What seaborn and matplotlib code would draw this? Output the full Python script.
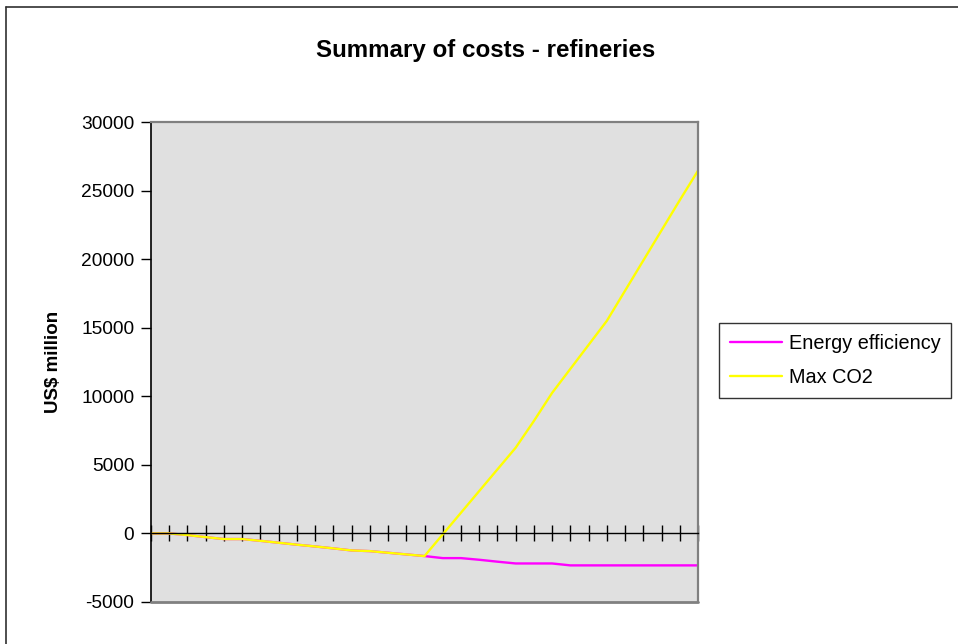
import matplotlib
matplotlib.use("Agg")
import matplotlib.pyplot as plt
from matplotlib.lines import Line2D
import numpy as np
import pandas as pd
import seaborn as sns

# Categories along the (unlabelled) x axis
periods = list(range(31))

# Cumulative cost per scenario, US$ million
energy_efficiency = [0, 0, -120, -270, -410, -410, -540, -680, -820, -950,
                     -1090, -1240, -1290, -1410, -1530, -1650, -1800, -1800,
                     -1920, -2060, -2190, -2190, -2190, -2330, -2330, -2330,
                     -2330, -2330, -2330, -2330, -2330]
max_co2 = [0, 0, -120, -270, -410, -410, -540, -680, -820, -950,
           -1090, -1240, -1290, -1410, -1530, -1650, -70, 1510,
           3090, 4670, 6250, 8200, 10250, 12000, 13750, 15500,
           17700, 19900, 22100, 24300, 26450]

series_names = ["Energy efficiency", "Max CO2"]
series_colors = ["#FF00FF", "#FFFF00"]
y_ticks = [-5000, 0, 5000, 10000, 15000, 20000, 25000, 30000]
title_text = "Summary of costs - refineries"
y_label = "US$ million"

sns.set_theme(style="white")
plt.rcParams["font.family"] = ["Liberation Sans", "DejaVu Sans"]
plt.rcParams["text.color"] = "black"
plt.rcParams["ytick.labelcolor"] = "black"

df = pd.concat([
    pd.DataFrame({"period": periods, "value": energy_efficiency, "series": series_names[0]}),
    pd.DataFrame({"period": periods, "value": max_co2, "series": series_names[1]}),
])

W, H = 958, 644
fig = plt.figure(figsize=(W / 100, H / 100), dpi=100)
fig.patch.set_facecolor("white")

# Plot area in pixel coordinates
left, right, top, bottom = 151, 698, 122, 602
ax = fig.add_axes([left / W, 1 - bottom / H, (right - left) / W, (bottom - top) / H])
ax.set_facecolor("#E0E0E0")

sns.lineplot(data=df, x="period", y="value", hue="series", hue_order=series_names,
             palette=series_colors, linewidth=1.7, ax=ax, legend=False)

ax.set_xlim(0, 30)
ax.set_ylim(-5000, 30000)
ax.set_yticks(y_ticks)
ax.set_yticklabels([str(v) for v in y_ticks], color="black")
ax.set_xticks(periods)
ax.set_xticklabels([])
ax.set_xlabel("")
ax.set_ylabel("")

# Category axis crosses at zero
ax.spines["bottom"].set_position(("data", 0))
ax.spines["bottom"].set_color("black")
ax.spines["bottom"].set_linewidth(1.0)
ax.spines["left"].set_color("black")
ax.spines["left"].set_linewidth(1.2)
for s in ("top", "right"):
    ax.spines[s].set_color("#808080")
    ax.spines[s].set_linewidth(1.6)
ax.plot([0, 1], [0, 0], transform=ax.transAxes, color="#808080", lw=2.0,
        clip_on=False, zorder=3)

ax.tick_params(axis="x", direction="inout", length=11, width=1.0, color="black",
               bottom=True)
ax.tick_params(axis="y", direction="out", length=7, width=1.0, color="black",
               labelsize=13.8, pad=5, left=True)

fig.text(486 / W, 1 - 51 / H, title_text, ha="center", va="center",
         fontsize=17.4, fontweight="bold", color="black")
fig.text(53 / W, 1 - 362 / H, y_label, ha="center", va="center", rotation=90,
         fontsize=13.5, fontweight="bold", color="black")

handles = [Line2D([], [], color=c, lw=1.7) for c in series_colors]
leg = fig.legend(handles, series_names, loc="upper left",
                 bbox_to_anchor=(719 / W, 1 - 323 / H), fontsize=14.3,
                 frameon=True, fancybox=False, edgecolor="black",
                 handlelength=2.6, handletextpad=0.35, labelspacing=0.75,
                 borderpad=0.55, borderaxespad=0)
leg.get_frame().set_linewidth(1.0)
for t in leg.get_texts():
    t.set_color("black")

# Outer chart border (left and top edges)
fig.add_artist(Line2D([6 / W, 6 / W], [0, 1 - 7 / H], color="#303030", lw=1.2,
                      transform=fig.transFigure))
fig.add_artist(Line2D([6 / W, 1], [1 - 7 / H, 1 - 7 / H], color="#303030", lw=1.2,
                      transform=fig.transFigure))

fig.savefig("out.png", dpi=100)
